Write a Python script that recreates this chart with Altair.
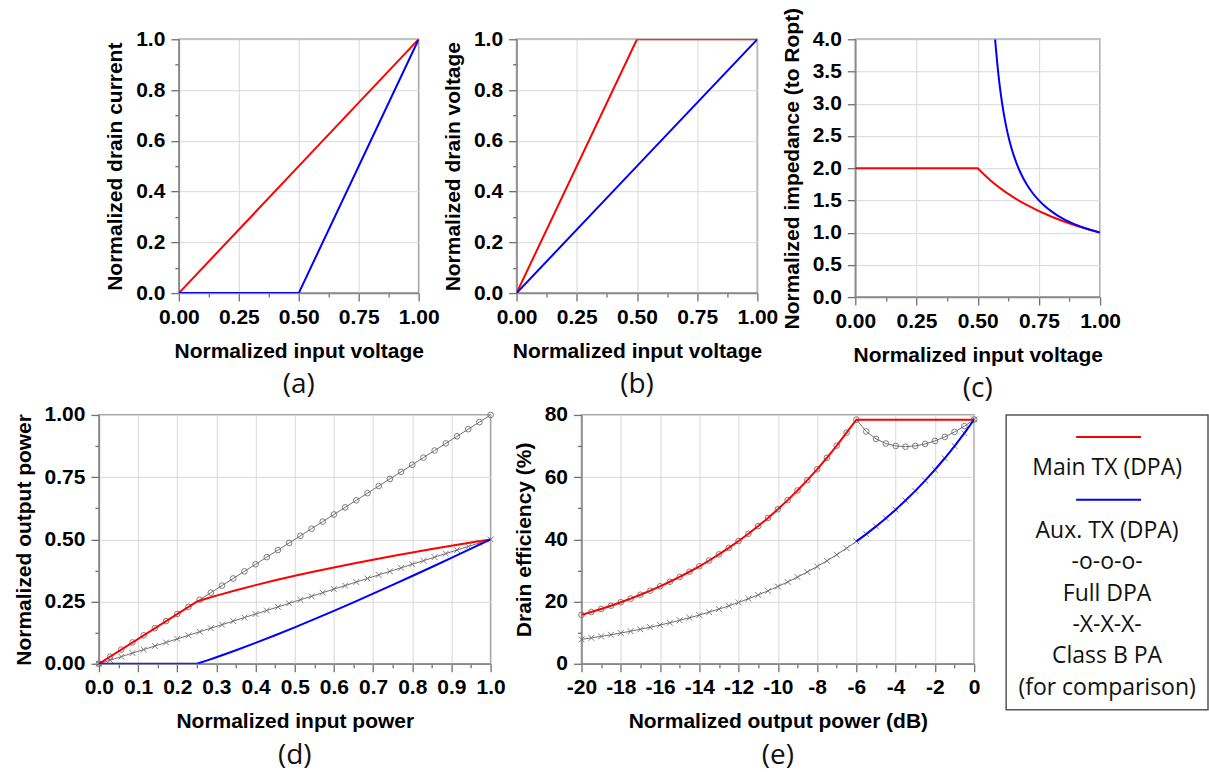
import altair as alt
import pandas as pd

# ---------------- data ----------------
# (a) normalized drain current vs normalized input voltage
a_vin = [0.0, 0.5, 1.0]
a_main = [0.0, 0.5, 1.0]
a_aux = [0.0, 0.0, 1.0]

# (b) normalized drain voltage vs normalized input voltage
b_vin = [0.0, 0.5, 1.0]
b_main = [0.0, 1.0, 1.0]
b_aux = [0.0, 0.5, 1.0]

# (c) normalized impedance (to Ropt)
c_main_vin = [0.0, 0.5, 0.525, 0.55, 0.575, 0.6, 0.625, 0.65, 0.675, 0.7, 0.75, 0.8,
              0.85, 0.9, 0.95, 1.0]
c_main_z = [2.0, 2.0, 1.905, 1.818, 1.739, 1.667, 1.6, 1.538, 1.481, 1.429, 1.333, 1.25,
            1.176, 1.111, 1.053, 1.0]
c_aux_vin = [0.571, 0.575, 0.58, 0.585, 0.59, 0.595, 0.6, 0.61, 0.62, 0.63, 0.64, 0.65,
             0.66, 0.675, 0.7, 0.725, 0.75, 0.775, 0.8, 0.825, 0.85, 0.875, 0.9, 0.95, 1.0]
c_aux_z = [4.0, 3.833, 3.625, 3.441, 3.278, 3.132, 3.0, 2.773, 2.583, 2.423, 2.286, 2.167,
           2.063, 1.929, 1.75, 1.611, 1.5, 1.409, 1.333, 1.269, 1.214, 1.167, 1.125, 1.056, 1.0]

# (d) normalized output power vs normalized input power
d_pin = [0.0, 0.0286, 0.0571, 0.0857, 0.1143, 0.1429, 0.1714, 0.2, 0.2286, 0.2571,
         0.2857, 0.3143, 0.3429, 0.3714, 0.4, 0.4286, 0.4571, 0.4857, 0.5143, 0.5429,
         0.5714, 0.6, 0.6286, 0.6571, 0.6857, 0.7143, 0.7429, 0.7714, 0.8, 0.8286,
         0.8571, 0.8857, 0.9143, 0.9429, 0.9714, 1.0]
d_full = [0.0, 0.0286, 0.0571, 0.0857, 0.1143, 0.1429, 0.1714, 0.2, 0.2286, 0.2571,
          0.2857, 0.3143, 0.3429, 0.3714, 0.4, 0.4286, 0.4571, 0.4857, 0.5143, 0.5429,
          0.5714, 0.6, 0.6286, 0.6571, 0.6857, 0.7143, 0.7429, 0.7714, 0.8, 0.8286,
          0.8571, 0.8857, 0.9143, 0.9429, 0.9714, 1.0]
d_classb = [0.0, 0.0143, 0.0286, 0.0429, 0.0571, 0.0714, 0.0857, 0.1, 0.1143, 0.1286,
            0.1429, 0.1571, 0.1714, 0.1857, 0.2, 0.2143, 0.2286, 0.2429, 0.2571, 0.2714,
            0.2857, 0.3, 0.3143, 0.3286, 0.3429, 0.3571, 0.3714, 0.3857, 0.4, 0.4143,
            0.4286, 0.4429, 0.4571, 0.4714, 0.4857, 0.5]
d_tx_pin = [0.0, 0.25, 0.275, 0.3, 0.35, 0.4, 0.45, 0.5, 0.55, 0.6, 0.65, 0.7, 0.75,
            0.8, 0.85, 0.9, 0.95, 1.0]
d_main = [0.0, 0.25, 0.2622, 0.2739, 0.2958, 0.3162, 0.3354, 0.3536, 0.3708, 0.3873,
          0.4031, 0.4183, 0.4330, 0.4472, 0.4610, 0.4743, 0.4873, 0.5]
d_aux = [0.0, 0.0, 0.0128, 0.0261, 0.0542, 0.0838, 0.1146, 0.1464, 0.1792, 0.2127,
         0.2469, 0.2817, 0.3170, 0.3528, 0.3890, 0.4257, 0.4627, 0.5]

# (e) drain efficiency (%) vs normalized output power (dB)
e_db = [-20, -19.5, -19, -18.5, -18, -17.5, -17, -16.5, -16, -15.5, -15, -14.5, -14,
        -13.5, -13, -12.5, -12, -11.5, -11, -10.5, -10, -9.5, -9, -8.5, -8, -7.5, -7,
        -6.5, -6, -5.5, -5, -4.5, -4, -3.5, -3, -2.5, -2, -1.5, -1, -0.5, 0]
e_full = [15.71, 16.64, 17.62, 18.67, 19.78, 20.95, 22.19, 23.50, 24.90, 26.37, 27.93,
          29.59, 31.34, 33.20, 35.17, 37.25, 39.46, 41.79, 44.27, 46.89, 49.67, 52.62,
          55.73, 59.04, 62.53, 66.24, 70.16, 74.32, 78.5, 74.70, 72.30, 70.82, 70.04,
          69.81, 70.05, 70.69, 71.66, 72.96, 74.55, 76.41, 78.54]
e_classb = [7.85, 8.32, 8.81, 9.33, 9.89, 10.47, 11.09, 11.75, 12.45, 13.19, 13.97,
            14.79, 15.67, 16.60, 17.58, 18.62, 19.73, 20.90, 22.14, 23.45, 24.84, 26.31,
            27.87, 29.52, 31.27, 33.12, 35.08, 37.16, 39.36, 41.70, 44.17, 46.78, 49.56,
            52.49, 55.60, 58.90, 62.39, 66.08, 70.00, 74.15, 78.54]
e_main_db = [-20, -19.5, -19, -18.5, -18, -17.5, -17, -16.5, -16, -15.5, -15, -14.5, -14,
             -13.5, -13, -12.5, -12, -11.5, -11, -10.5, -10, -9.5, -9, -8.5, -8, -7.5,
             -7, -6.5, -6, 0]
e_main = [15.71, 16.64, 17.62, 18.67, 19.78, 20.95, 22.19, 23.50, 24.90, 26.37, 27.93,
          29.59, 31.34, 33.20, 35.17, 37.25, 39.46, 41.79, 44.27, 46.89, 49.67, 52.62,
          55.73, 59.04, 62.53, 66.24, 70.16, 74.32, 78.5, 78.5]
e_aux_db = [-6, -5.5, -5, -4.5, -4, -3.5, -3, -2.5, -2, -1.5, -1, -0.5, 0]
e_aux = [39.36, 41.70, 44.17, 46.78, 49.56, 52.49, 55.60, 58.90, 62.39, 66.08, 70.00,
         74.15, 78.54]

# tick values
v_tick_x = [0.0, 0.125, 0.25, 0.375, 0.5, 0.625, 0.75, 0.875, 1.0]
ab_tick_y = [0.0, 0.1, 0.2, 0.3, 0.4, 0.5, 0.6, 0.7, 0.8, 0.9, 1.0]
c_tick_y = [0.0, 0.5, 1.0, 1.5, 2.0, 2.5, 3.0, 3.5, 4.0]
d_tick_x = [0.0, 0.05, 0.1, 0.15, 0.2, 0.25, 0.3, 0.35, 0.4, 0.45, 0.5, 0.55, 0.6,
            0.65, 0.7, 0.75, 0.8, 0.85, 0.9, 0.95, 1.0]
d_tick_y = [0.0, 0.125, 0.25, 0.375, 0.5, 0.625, 0.75, 0.875, 1.0]
e_tick_x = [-20, -19, -18, -17, -16, -15, -14, -13, -12, -11, -10, -9, -8, -7, -6, -5,
            -4, -3, -2, -1, 0]
e_tick_y = [0, 10, 20, 30, 40, 50, 60, 70, 80]

# legend
leg_rows = ["line_main", "Main TX (DPA)", "line_aux", "Aux. TX (DPA)", "-o-o-o-",
            "Full DPA", "-X-X-X-", "Class B PA", "(for comparison)"]
leg_text_rows = ["Main TX (DPA)", "Aux. TX (DPA)", "-o-o-o-", "Full DPA", "-X-X-X-",
                 "Class B PA", "(for comparison)"]
leg_line_rows = ["line_main", "line_aux"]
leg_line_colors = ["#ff0000", "#0000ff"]

# ---------------- styling helpers ----------------
FONT = "Liberation Sans"
PFONT = "Open Sans"
RED = "#ff0000"
BLUE = "#0000ff"
GRAY = "#6e6e6e"
XSHAPE = "M-1,-1L1,1M-1,1L1,-1"

QUARTER = "abs(datum.value*4 - round(datum.value*4)) < 0.001"
EVEN_TENTH = "round(datum.value*10) % 2 == 0"
EVEN_TWENTIETH = "round(datum.value*20) % 2 == 0"


def make_axis(values, title, major, fmt):
    return alt.Axis(
        values=values,
        title=title,
        labelExpr=f"({major}) ? {fmt} : ''",
        tickSize={"condition": {"test": major, "value": 8}, "value": 4},
        gridOpacity={"condition": {"test": major, "value": 1}, "value": 0},
        labelFlush=False,
        labelOverlap=False,
    )


def enc_x(domain, axis):
    return alt.X("x:Q", scale=alt.Scale(domain=domain, nice=False, zero=False), axis=axis)


def enc_y(domain, axis):
    return alt.Y("y:Q", scale=alt.Scale(domain=domain, nice=False, zero=False), axis=axis)


def df(xs, ys):
    return pd.DataFrame({"x": xs, "y": ys})


def line(xs, ys, X, Y, color, width=2.0, interp="linear"):
    return alt.Chart(df(xs, ys)).mark_line(
        color=color, strokeWidth=width, clip=True, interpolate=interp
    ).encode(x=X, y=Y)


def markers(xs, ys, X, Y, shape, size):
    return alt.Chart(df(xs, ys)).mark_point(
        shape=shape, filled=False, size=size, color=GRAY, strokeWidth=1, opacity=0.9
    ).encode(x=X, y=Y)


def ptitle(text):
    return alt.TitleParams(text=text, orient="bottom", anchor="middle", frame="group",
                           font=PFONT, fontSize=28, fontWeight="normal", color="#111111",
                           offset=10)


# ---------------- panel (a) ----------------
Xa = enc_x([0, 1], make_axis(v_tick_x, "Normalized input voltage", QUARTER, "format(datum.value, '.2f')"))
Ya = enc_y([0, 1], make_axis(ab_tick_y, "Normalized drain current", EVEN_TENTH, "format(datum.value, '.1f')"))
panel_a = alt.layer(
    line(a_vin, a_main, Xa, Ya, RED),
    line(a_vin, a_aux, Xa, Ya, BLUE),
).properties(width=240, height=254, title=ptitle("(a)"))

# ---------------- panel (b) ----------------
Xb = enc_x([0, 1], make_axis(v_tick_x, "Normalized input voltage", QUARTER, "format(datum.value, '.2f')"))
Yb = enc_y([0, 1], make_axis(ab_tick_y, "Normalized drain voltage", EVEN_TENTH, "format(datum.value, '.1f')"))
panel_b = alt.layer(
    line(b_vin, b_main, Xb, Yb, RED),
    line(b_vin, b_aux, Xb, Yb, BLUE),
).properties(width=241, height=254, title=ptitle("(b)"))

# ---------------- panel (c) ----------------
Xc = enc_x([0, 1], make_axis(v_tick_x, "Normalized input voltage", QUARTER, "format(datum.value, '.2f')"))
Yc = enc_y([0, 4], make_axis(c_tick_y, "Normalized impedance (to Ropt)", "true", "format(datum.value, '.1f')"))
panel_c = alt.layer(
    line(c_main_vin, c_main_z, Xc, Yc, RED),
    line(c_aux_vin, c_aux_z, Xc, Yc, BLUE, interp="monotone"),
).properties(width=245, height=258, title=ptitle("(c)"))

# ---------------- panel (d) ----------------
Xd = enc_x([0, 1], make_axis(d_tick_x, "Normalized input power", EVEN_TWENTIETH, "format(datum.value, '.1f')"))
Yd = enc_y([0, 1], make_axis(d_tick_y, "Normalized output power", QUARTER, "format(datum.value, '.2f')"))
panel_d = alt.layer(
    line(d_pin, d_full, Xd, Yd, GRAY, 1.0),
    markers(d_pin, d_full, Xd, Yd, "circle", 32),
    line(d_pin, d_classb, Xd, Yd, GRAY, 1.0),
    markers(d_pin, d_classb, Xd, Yd, XSHAPE, 34),
    line(d_tx_pin, d_main, Xd, Yd, RED),
    line(d_tx_pin, d_aux, Xd, Yd, BLUE),
).properties(width=392, height=249, title=ptitle("(d)"))

# ---------------- panel (e) ----------------
Xe = enc_x([-20, 0], make_axis(e_tick_x, "Normalized output power (dB)", "datum.value % 2 == 0", "'' + datum.value"))
Ye = enc_y([0, 80], make_axis(e_tick_y, "Drain efficiency (%)", "datum.value % 20 == 0", "'' + datum.value"))
panel_e = alt.layer(
    line(e_db, e_full, Xe, Ye, GRAY, 1.0),
    markers(e_db, e_full, Xe, Ye, "circle", 32),
    line(e_db, e_classb, Xe, Ye, GRAY, 1.0),
    markers(e_db, e_classb, Xe, Ye, XSHAPE, 34),
    line(e_main_db, e_main, Xe, Ye, RED),
    line(e_aux_db, e_aux, Xe, Ye, BLUE),
).properties(width=393, height=249, title=ptitle("(e)"))

# ---------------- legend box ----------------
Yl = alt.Y("row:N", scale=alt.Scale(type="point", domain=leg_rows, padding=0.7), axis=None)
leg_lines = alt.Chart(pd.DataFrame({"row": leg_line_rows, "c": leg_line_colors})).mark_rule(
    strokeWidth=2
).encode(y=Yl, x=alt.value(70), x2=alt.value(135), color=alt.Color("c:N", scale=None))
leg_texts = alt.Chart(pd.DataFrame({"row": leg_text_rows})).mark_text(
    font=PFONT, fontSize=23, color="#111111"
).encode(y=Yl, x=alt.value(101), text="row:N")
legend_box = alt.layer(leg_lines, leg_texts).properties(
    width=202, height=295, view=alt.ViewBackground(stroke="#555555", strokeWidth=1.5)
)

# invisible spacers used only to set gaps between panels
spacer_left = alt.Chart(pd.DataFrame({"x": [0]})).mark_point(opacity=0, size=1).encode(
    x=alt.value(0), y=alt.value(0)
).properties(width=40, height=10, view=alt.ViewBackground(stroke="transparent"))
spacer_mid = alt.Chart(pd.DataFrame({"x": [0]})).mark_point(opacity=0, size=1).encode(
    x=alt.value(10), y=alt.value(10)
).properties(width=27, height=249, view=alt.ViewBackground(stroke="transparent"))

top_panels = alt.hconcat(panel_a, panel_b, panel_c, spacing=98, bounds="flush")
row1 = alt.hconcat(spacer_left, top_panels, spacing=40, bounds="flush")
row2 = alt.hconcat(panel_d, spacer_mid, panel_e, legend_box, spacing=32, bounds="flush")

chart = alt.vconcat(row1, row2, spacing=-1).properties(
    padding={"left": 12, "top": 6, "right": 0, "bottom": 0},
    background="white",
).configure_axis(
    labelFont=FONT, labelFontWeight="bold", labelFontSize=21, labelColor="black",
    titleFont=FONT, titleFontWeight="bold", titleFontSize=21, titleColor="black",
    domainColor="#8a8a8a", domainWidth=1.5, tickColor="#707070", tickWidth=1.3,
    gridColor="#d9d9d9", gridWidth=1,
).configure_axisX(labelPadding=5, titlePadding=13).configure_axisY(
    labelPadding=6, titlePadding=10
).configure_view(stroke="#8a8a8a", strokeWidth=1.5)

chart.save("out.html", embed_options={"renderer": "svg", "actions": False})
